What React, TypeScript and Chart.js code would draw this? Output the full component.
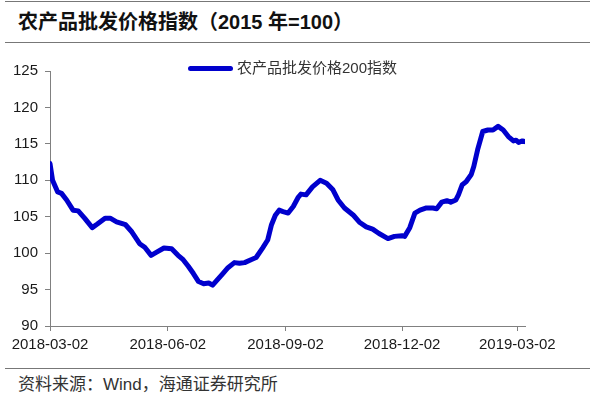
import React, { useEffect, useRef } from "react";
import { Chart, registerables } from "chart.js";

Chart.register(...registerables);

const seriesLabel = "农产品批发价格200指数";

const dates = [
  "2018-03-02","2018-03-04","2018-03-08","2018-03-11","2018-03-15","2018-03-20","2018-03-24","2018-03-29","2018-04-04","2018-04-08",
  "2018-04-14","2018-04-18","2018-04-23","2018-04-30","2018-05-05","2018-05-11","2018-05-15","2018-05-20","2018-05-24","2018-05-30",
  "2018-06-05","2018-06-10","2018-06-14","2018-06-18","2018-06-22","2018-06-26","2018-06-30","2018-07-04","2018-07-07","2018-07-11",
  "2018-07-15","2018-07-19","2018-07-24","2018-07-28","2018-08-01","2018-08-06","2018-08-10","2018-08-15","2018-08-19","2018-08-22",
  "2018-08-25","2018-08-28","2018-08-31","2018-09-04","2018-09-08","2018-09-12","2018-09-14","2018-09-18","2018-09-23","2018-09-29",
  "2018-10-04","2018-10-09","2018-10-13","2018-10-18","2018-10-25","2018-10-30","2018-11-04","2018-11-09","2018-11-14","2018-11-21",
  "2018-11-26","2018-12-02","2018-12-04","2018-12-08","2018-12-12","2018-12-16","2018-12-21","2018-12-26","2018-12-29","2019-01-02",
  "2019-01-06","2019-01-09","2019-01-13","2019-01-15","2019-01-18","2019-01-21","2019-01-25","2019-01-27","2019-01-30","2019-02-03",
  "2019-02-07","2019-02-11","2019-02-15","2019-02-19","2019-02-23","2019-02-27","2019-03-01","2019-03-03","2019-03-06","2019-03-08",
];

const values = [
  112.3,110.0,108.4,108.2,107.3,105.9,105.8,104.8,103.5,104.0,
  104.8,104.8,104.3,103.9,102.9,101.3,100.8,99.7,100.1,100.7,
  100.6,99.7,99.1,98.2,97.2,96.1,95.8,95.9,95.6,96.4,
  97.2,98.0,98.7,98.6,98.7,99.1,99.4,100.7,101.8,103.9,
  105.2,105.9,105.7,105.5,106.4,107.7,108.1,108.0,109.1,110.0,
  109.6,108.7,107.3,106.2,105.2,104.2,103.6,103.3,102.7,102.0,
  102.3,102.4,102.3,103.5,105.5,105.9,106.2,106.2,106.1,107.0,
  107.2,107.0,107.3,108.0,109.4,109.8,110.8,111.9,114.2,116.7,
  116.9,116.9,117.4,116.9,116.0,115.4,115.5,115.2,115.4,115.3,
];

const xTickDates = ["2018-03-02", "2018-06-02", "2018-09-02", "2018-12-02", "2019-03-02"];
const yMin = 90;
const yMax = 125;
const yStep = 5;

const BASE = Date.UTC(2018, 2, 2);
function dayOf(s: string): number {
  const [y, m, d] = s.split("-").map(Number);
  return Math.round((Date.UTC(y, m - 1, d) - BASE) / 86400000);
}

const LINE_COLOR = "#0000CD";
const FONT = "'Liberation Sans', Arial, sans-serif";
const CJK = "'Liberation Sans', 'Noto Sans CJK SC', sans-serif";

export default function App() {
  const ref = useRef<HTMLCanvasElement | null>(null);

  useEffect(() => {
    if (!ref.current) return;
    const tickDays = xTickDates.map(dayOf);
    const labelByDay: Record<number, string> = {};
    xTickDates.forEach((d) => (labelByDay[dayOf(d)] = d));
    const points = dates.map((d, i) => ({ x: dayOf(d), y: values[i] }));

    const chart = new Chart(ref.current, {
      type: "line",
      data: {
        datasets: [
          {
            label: seriesLabel,
            data: points,
            borderColor: LINE_COLOR,
            backgroundColor: LINE_COLOR,
            borderWidth: 5,
            pointRadius: 0,
            borderJoinStyle: "round",
            borderCapStyle: "round",
            tension: 0,
          },
        ],
      },
      options: {
        animation: false,
        responsive: false,
        maintainAspectRatio: false,
        layout: { padding: { left: 0, right: 75, top: 26, bottom: 0 } },
        plugins: { legend: { display: false }, tooltip: { enabled: false } },
        scales: {
          x: {
            type: "linear",
            min: 0,
            max: dayOf(dates[dates.length - 1]),
            afterBuildTicks: (scale: any) => {
              scale.ticks = tickDays.map((v) => ({ value: v }));
            },
            afterFit: (scale: any) => {
              scale.height = 39;
            },
            border: { display: true, color: "#808080", width: 1 },
            grid: { display: true, drawOnChartArea: false, tickLength: 5, color: "#808080" },
            ticks: {
              autoSkip: false,
              maxRotation: 0,
              padding: 5,
              color: "#1a1a1a",
              font: { family: FONT, size: 15 },
              callback: (v: any) => labelByDay[Number(v)] ?? "",
            },
          },
          y: {
            min: yMin,
            max: yMax,
            afterFit: (scale: any) => {
              scale.width = 50;
            },
            border: { display: true, color: "#808080", width: 1 },
            grid: { display: true, drawOnChartArea: false, tickLength: 5, color: "#808080" },
            ticks: {
              stepSize: yStep,
              padding: 7,
              color: "#1a1a1a",
              font: { family: FONT, size: 15 },
            },
          },
        },
      },
    });
    return () => chart.destroy();
  }, []);

  return (
    <div style={{ position: "absolute", left: 0, top: 0, width: 600, height: 405, background: "#fff", overflow: "hidden" }}>
      <div style={{ position: "absolute", left: 5, top: 1, width: 585, height: 1, background: "#777" }} />
      <div
        style={{
          position: "absolute",
          left: 18,
          top: 8,
          fontFamily: CJK,
          fontWeight: "bold",
          fontSize: 20,
          color: "#111",
          whiteSpace: "nowrap",
          lineHeight: "28px",
        }}
      >
        农产品批发价格指数（2015 年=100）
      </div>
      <div style={{ position: "absolute", left: 5, top: 42, width: 585, height: 1, background: "#777" }} />
      <canvas ref={ref} width={600} height={320} style={{ position: "absolute", left: 0, top: 45, width: 600, height: 320 }} />
      <div style={{ position: "absolute", left: 188, top: 66, width: 45, height: 5, borderRadius: 3, background: LINE_COLOR }} />
      <div
        style={{
          position: "absolute",
          left: 237,
          top: 58,
          fontFamily: CJK,
          fontSize: 15,
          color: "#333",
          whiteSpace: "nowrap",
          lineHeight: "20px",
        }}
      >
        {seriesLabel}
      </div>
      <div style={{ position: "absolute", left: 5, top: 368, width: 585, height: 1, background: "#777" }} />
      <div
        style={{
          position: "absolute",
          left: 18,
          top: 374,
          fontFamily: CJK,
          fontSize: 17,
          color: "#333",
          whiteSpace: "nowrap",
          lineHeight: "22px",
        }}
      >
        资料来源：Wind，海通证券研究所
      </div>
    </div>
  );
}
